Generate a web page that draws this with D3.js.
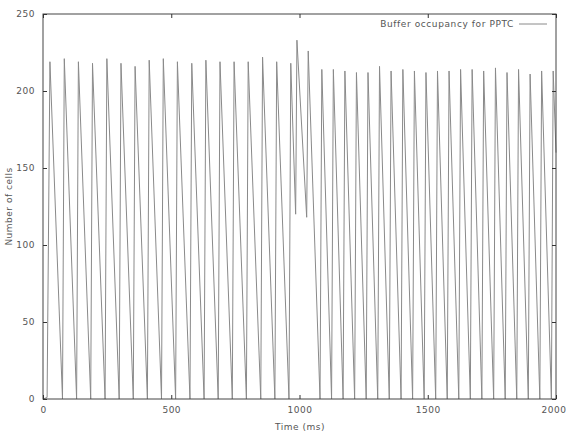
<!DOCTYPE html>
<html>
<head>
<meta charset="utf-8">
<script src="https://cdn.jsdelivr.net/npm/d3@7"></script>
<style>
  html, body { margin: 0; padding: 0; background: #fff; }
  svg { display: block; }
  text { font-family: "DejaVu Sans", sans-serif; fill: #555; }
</style>
</head>
<body>
<svg id="chart" width="567" height="432"></svg>
<script>
// ---- data ----
// vertices of the buffer-occupancy trace: time (ms) and number of cells
const times = [
  0, 16, 27,
  76, 83, 131, 138, 186, 193, 242, 249, 297, 304, 352, 359, 407, 414,
  462, 469, 517, 524, 573, 580, 628, 635, 683, 690, 738, 745, 793, 800,
  849, 856, 904, 911, 959, 966,
  985, 990, 1028, 1034,
  1080, 1087, 1125, 1132, 1170, 1177, 1215, 1222, 1260, 1267, 1305, 1312,
  1350, 1357, 1396, 1403, 1441, 1448, 1486, 1493, 1531, 1538, 1576, 1583,
  1621, 1628, 1666, 1673, 1711, 1718, 1757, 1764, 1802, 1809, 1847, 1854,
  1892, 1899, 1937, 1944, 1982, 1989,
  2000
];
const cells = [
  0, 1, 219,
  0, 221, 0, 219, 0, 218, 0, 221, 0, 218, 0, 216, 0, 220,
  0, 221, 0, 219, 0, 218, 0, 220, 0, 219, 0, 219, 0, 219,
  0, 222, 0, 219, 0, 218,
  120, 233, 118, 226,
  0, 214, 0, 214, 0, 213, 0, 212, 0, 212, 0, 216,
  0, 213, 0, 214, 0, 213, 0, 212, 0, 213, 0, 213,
  0, 214, 0, 214, 0, 213, 0, 215, 0, 212, 0, 214,
  0, 211, 0, 213, 0, 213,
  160
];
const xTicks = [0, 500, 1000, 1500, 2000];
const yTicks = [0, 50, 100, 150, 200, 250];
const seriesLabel = "Buffer occupancy for PPTC";
const xTitle = "Time (ms)";
const yTitle = "Number of cells";

// ---- layout ----
const svg = d3.select("#chart");
const L = 43, R = 556, T = 14, B = 399;
const x = d3.scaleLinear().domain([0, 2000]).range([L, R]);
const y = d3.scaleLinear().domain([0, 250]).range([B, T]);

const data = times.map((t, i) => ({ t, v: cells[i] }));

// trace
svg.append("path")
  .datum(data)
  .attr("fill", "none")
  .attr("stroke", "#8a8a8a")
  .attr("stroke-width", 1)
  .attr("d", d3.line().x(d => x(d.t)).y(d => y(d.v)));

// frame
svg.append("rect")
  .attr("x", L).attr("y", T)
  .attr("width", R - L).attr("height", B - T)
  .attr("fill", "none").attr("stroke", "#444").attr("stroke-width", 1);

const tl = 4;
const fmt = d3.format("d");
// axes with inward ticks (also mirrored)
const gB = svg.append("g").attr("transform", `translate(0,${B})`)
  .call(d3.axisBottom(x).tickValues(xTicks).tickFormat(fmt).tickSizeInner(-tl).tickSizeOuter(0).tickPadding(8));
const gT = svg.append("g").attr("transform", `translate(0,${T})`)
  .call(d3.axisTop(x).tickValues(xTicks).tickSizeInner(-tl).tickSizeOuter(0).tickFormat(""));
const gL = svg.append("g").attr("transform", `translate(${L},0)`)
  .call(d3.axisLeft(y).tickValues(yTicks).tickFormat(fmt).tickSizeInner(-tl).tickSizeOuter(0).tickPadding(8));
const gR = svg.append("g").attr("transform", `translate(${R},0)`)
  .call(d3.axisRight(y).tickValues(yTicks).tickSizeInner(-tl).tickSizeOuter(0).tickFormat(""));
[gB, gT, gL, gR].forEach(g => {
  g.select(".domain").remove();
  g.selectAll(".tick line").attr("stroke", "#333");
  g.selectAll("text").attr("font-size", 9).attr("fill", "#555")
    .attr("font-family", "DejaVu Sans, sans-serif").style("letter-spacing", "0.5px");
});
// keep the last x label inside the page
gB.selectAll(".tick text").filter(d => d === 2000).attr("text-anchor", "end").attr("dx", 10);

// titles
svg.append("text").attr("x", 300).attr("y", 430)
  .attr("text-anchor", "middle").attr("font-size", 9).style("letter-spacing", "0.5px")
  .text(xTitle);
svg.append("text")
  .attr("transform", `translate(12,${(T + B) / 2}) rotate(-90)`)
  .attr("text-anchor", "middle").attr("font-size", 9).style("letter-spacing", "0.5px")
  .text(yTitle);

// legend
svg.append("text").attr("x", 514).attr("y", 27)
  .attr("text-anchor", "end").attr("font-size", 9).style("letter-spacing", "0.6px")
  .text(seriesLabel);
svg.append("line").attr("x1", 519).attr("x2", 547).attr("y1", 24).attr("y2", 24)
  .attr("stroke", "#8a8a8a").attr("stroke-width", 1);
</script>
</body>
</html>
